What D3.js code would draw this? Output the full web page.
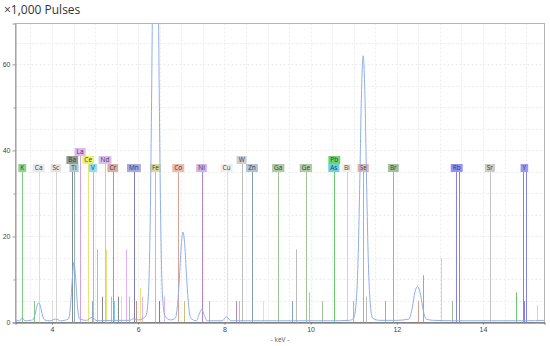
<!DOCTYPE html>
<html>
<head>
<meta charset="utf-8">
<script src="https://cdn.jsdelivr.net/npm/d3@7"></script>
<style>
  body { margin: 0; background: #fff; }
  svg { display: block; font-family: "Open Sans", "DejaVu Sans", sans-serif; }
</style>
</head>
<body>
<div id="chart"></div>
<script>
// tick labels
var keVTicks = [4, 6, 8, 10, 12, 14]
var countTicks = [0, 20, 40, 60]

// element markers: name, main line energy (keV), series
var elNames = ["K", "Ca", "Sc", "Ti", "V", "Cr", "Mn", "Fe", "Co", "Ni", "Cu", "Zn", "Ga", "Ge", "As", "Se", "Br", "Rb", "Sr", "Y",
               "Ba", "La", "Ce", "Nd", "W", "Pb", "Bi"]
var elMainKeV = [3.31, 3.69, 4.09, 4.51, 4.95, 5.41, 5.90, 6.40, 6.93, 7.47, 8.05, 8.64, 9.25, 9.89, 10.54, 11.22, 11.92, 13.39, 14.16, 14.96,
                 4.47, 4.65, 4.84, 5.23, 8.40, 10.55, 10.84]
var elSeries = ["K", "K", "K", "K", "K", "K", "K", "K", "K", "K", "K", "K", "K", "K", "K", "K", "K", "K", "K", "K",
                "L", "L", "L", "L", "L", "L", "L"]

// secondary marker lines: [element, keV, height in x1,000 pulses]
var subLines = [
  ["K", 3.59, 5], ["Ca", 4.01, 5], ["Sc", 4.46, 5], ["Ti", 4.93, 5], ["V", 5.43, 5], ["Cr", 5.95, 5],
  ["Mn", 6.49, 5], ["Fe", 7.06, 5], ["Co", 7.65, 5], ["Ni", 8.26, 5], ["Cu", 8.90, 5], ["Zn", 9.57, 5],
  ["Ga", 10.26, 5], ["Ge", 10.98, 5], ["As", 11.73, 5], ["Se", 12.50, 5], ["Br", 13.29, 5], ["Rb", 14.96, 5],
  ["Ba", 4.83, 17], ["Ba", 5.16, 6], ["Ba", 5.53, 6],
  ["La", 5.04, 17], ["La", 5.38, 6], ["La", 5.79, 6],
  ["Ce", 5.26, 17], ["Ce", 5.61, 6], ["Ce", 6.05, 8],
  ["Nd", 5.72, 17], ["Nd", 6.09, 6], ["Nd", 6.60, 6],
  ["W", 8.33, 5], ["W", 9.67, 17], ["W", 9.96, 7], ["W", 11.29, 6],
  ["Pb", 12.61, 11], ["Pb", 14.76, 7],
  ["Bi", 13.02, 15], ["Bi", 15.25, 4]
]

// measured spectrum: [keV, x1,000 pulses]
var spectrum = [
  [3.15, 0.4], [3.25, 0.4], [3.31, 1.1], [3.37, 0.4], [3.50, 0.5], [3.55, 0.6], [3.61, 2.0], [3.65, 3.8],
  [3.69, 4.6], [3.73, 3.8], [3.77, 2.0], [3.83, 0.6], [3.95, 0.4], [4.09, 0.8], [4.20, 0.4], [4.38, 0.8],
  [4.43, 4.0], [4.47, 10], [4.51, 14], [4.55, 10], [4.59, 4.0], [4.64, 0.8], [4.80, 0.5], [4.93, 1.2],
  [5.05, 0.4], [5.40, 0.5], [5.80, 0.5], [5.90, 0.9], [6.00, 0.6], [6.18, 1.5], [6.24, 7], [6.28, 25],
  [6.32, 62], [6.36, 110], [6.40, 130], [6.44, 110], [6.48, 62], [6.52, 25], [6.56, 7], [6.62, 1.5],
  [6.75, 0.6], [6.86, 1.0], [6.92, 5], [6.96, 11], [7.00, 18], [7.04, 21], [7.08, 18], [7.12, 11],
  [7.16, 5], [7.22, 1.0], [7.35, 0.4], [7.41, 1.8], [7.47, 3.0], [7.53, 1.8], [7.60, 0.4], [7.95, 0.4],
  [8.05, 1.3], [8.15, 0.4], [8.60, 0.4], [9.20, 0.4], [9.90, 0.4], [10.50, 0.4], [10.90, 0.5], [11.00, 1.0],
  [11.06, 5], [11.10, 14], [11.14, 32], [11.18, 53], [11.22, 62], [11.26, 53], [11.30, 32], [11.34, 14],
  [11.38, 5], [11.44, 1.0], [11.60, 0.5], [12.00, 0.5], [12.28, 0.8], [12.36, 3.5], [12.42, 7], [12.48, 8.4],
  [12.54, 7], [12.60, 3.5], [12.68, 0.8], [12.85, 0.5], [13.40, 0.4], [14.20, 0.4], [15.00, 0.4], [15.43, 0.5]
]

// label box / marker colours, keyed by element
var elFill = {
  K: "#8ed68e", Ca: "#e8e8e8", Sc: "#e4e4e4", Ti: "#aecbd9", V: "#8cdef0", Cr: "#dbaea0", Mn: "#a8a8e4",
  Fe: "#dada9e", Co: "#eabcae", Ni: "#d4b0e4", Cu: "#eeeeee", Zn: "#aec4da", Ga: "#aecaa6", Ge: "#aecaa6",
  As: "#62d4e8", Se: "#e4b6a8", Br: "#a0c4a0", Rb: "#9494f2", Sr: "#cccccc", Y: "#9a9af2",
  Ba: "#929c92", La: "#deb6f4", Ce: "#eef070", Nd: "#debef4", W: "#cecece", Pb: "#6cd46c", Bi: "#eeeeee"
}
var elStroke = {
  K: "#82cc82", Ca: "#dcdcdc", Sc: "#d6d6d6", Ti: "#8cb2c6", V: "#7cd0ea", Cr: "#bc9486", Mn: "#7c7cb4",
  Fe: "#c4c47a", Co: "#d8a294", Ni: "#b088be", Cu: "#dedede", Zn: "#84a0bc", Ga: "#a2c29a", Ge: "#a2c29a",
  As: "#5ccadc", Se: "#d2a294", Br: "#94bc94", Rb: "#8484e6", Sr: "#c2c2c2", Y: "#8484e6",
  Ba: "#858c85", La: "#cca6e8", Ce: "#e8e27c", Nd: "#e6b2f4", W: "#bcbcbc", Pb: "#6ccc6c", Bi: "#d2d2d2"
}

var width = 550
  , height = 346
  , plot = { left: 15.5, right: 544.5, top: 23.5, bottom: 322.5 }

var svg = d3.select("#chart").append("svg")
  .attr("width", width)
  .attr("height", height)

var x = d3.scaleLinear().domain([3.153, 15.427]).range([plot.left, plot.right])
var y = d3.scaleLinear().domain([0, 69.5]).range([plot.bottom, plot.top])

svg.append("defs").append("clipPath").attr("id", "plot-clip")
  .append("rect")
    .attr("x", plot.left)
    .attr("y", plot.top)
    .attr("width", plot.right - plot.left)
    .attr("height", plot.bottom - plot.top)

// title
svg.append("text")
  .attr("x", 4)
  .attr("y", 14)
  .attr("font-size", "12px")
  .attr("fill", "#333")
  .text("\u00d71,000 Pulses")

// grid
var grid = svg.append("g").attr("stroke", "#ececec").attr("stroke-dasharray", "2,2")
grid.selectAll("line.v")
  .data(d3.range(3.5, 15.45, 0.5))
  .enter().append("line")
    .attr("x1", function (d) { return Math.round(x(d)) + 0.5 })
    .attr("x2", function (d) { return Math.round(x(d)) + 0.5 })
    .attr("y1", plot.top)
    .attr("y2", plot.bottom)
grid.selectAll("line.h")
  .data(d3.range(5, 69, 5))
  .enter().append("line")
    .attr("x1", plot.left)
    .attr("x2", plot.right)
    .attr("y1", function (d) { return Math.round(y(d)) + 0.5 })
    .attr("y2", function (d) { return Math.round(y(d)) + 0.5 })

// frame
svg.append("rect")
  .attr("x", plot.left)
  .attr("y", plot.top)
  .attr("width", plot.right - plot.left)
  .attr("height", plot.bottom - plot.top)
  .attr("fill", "none")
  .attr("stroke", "#b4b4b4")

// y axis
var yAxis = svg.append("g")
  .attr("transform", "translate(" + plot.left + ",0)")
  .call(d3.axisLeft(y).tickValues(countTicks).tickSize(3).tickPadding(2))
yAxis.select(".domain").attr("stroke", "#999")
yAxis.selectAll(".tick line").attr("stroke", "#999")
yAxis.selectAll(".tick text").attr("font-size", "7px").attr("fill", "#444").attr("font-family", "inherit")

svg.append("g")
  .attr("transform", "translate(" + plot.left + ",0)")
  .call(d3.axisLeft(y).tickValues([10, 30, 50]).tickSize(2).tickFormat(""))
  .call(function (g) { g.select(".domain").remove(); g.selectAll("line").attr("stroke", "#999") })

// x axis
var xAxis = svg.append("g")
  .attr("transform", "translate(0," + plot.bottom + ")")
  .call(d3.axisBottom(x).tickValues(keVTicks).tickSize(2).tickPadding(3))
xAxis.select(".domain").attr("stroke", "#555")
xAxis.selectAll(".tick line").attr("stroke", "#777")
xAxis.selectAll(".tick text").attr("font-size", "7px").attr("fill", "#444").attr("font-family", "inherit")

svg.append("text")
  .attr("x", 280)
  .attr("y", 342)
  .attr("text-anchor", "middle")
  .attr("font-size", "6.5px")
  .attr("fill", "#555")
  .text("- keV -")

// element markers
var elements = elNames.map(function (n, i) {
  return { name: n, keV: elMainKeV[i], series: elSeries[i] }
})

var markers = svg.append("g").attr("clip-path", "url(#plot-clip)")
var labels = svg.append("g")

// secondary lines
markers.selectAll("line.sub")
  .data(subLines)
  .enter().append("line")
    .attr("x1", function (d) { return Math.round(x(d[1])) + 0.5 })
    .attr("x2", function (d) { return Math.round(x(d[1])) + 0.5 })
    .attr("y1", y(0))
    .attr("y2", function (d) { return y(d[2]) })
    .attr("stroke", function (d) { return elStroke[d[0]] })
    .attr("stroke-width", 1)

// place labels: K lines first, then L lines stacked upward when they collide
var order = elements.slice().sort(function (a, b) {
  return a.series === b.series ? a.keV - b.keV : (a.series === "K" ? -1 : 1)
})
var rows = []
  , boxH = 8
  , rowBase = 172

order.forEach(function (d) {
  var g = labels.append("g")
  var t = g.append("text")
    .attr("font-size", "6.5px")
    .attr("fill", "#3a3a3a")
    .attr("text-anchor", "middle")
    .text(d.name)
  var w = t.node().getComputedTextLength() + 4
  var cx = x(d.keV)
  var x0 = cx - w / 2, x1 = cx + w / 2
  var row = 0
  while (rows[row] && rows[row].some(function (r) { return x0 < r[1] && x1 > r[0] })) row++
  ;(rows[row] = rows[row] || []).push([x0, x1])
  d.boxBottom = rowBase - row * boxH
  g.insert("rect", "text")
    .attr("x", x0)
    .attr("y", d.boxBottom - boxH)
    .attr("width", w)
    .attr("height", boxH)
    .attr("fill", elFill[d.name])
  t.attr("x", cx).attr("y", d.boxBottom - 2)
})

// main lines from baseline to label (Rb and Y drawn as a double line)
var mainLines = []
elements.forEach(function (d) {
  if (d.name === "Rb" || d.name === "Y") {
    mainLines.push({ el: d, dx: -1 }, { el: d, dx: 2 })
  } else {
    mainLines.push({ el: d, dx: 0 })
  }
})

markers.selectAll("line.main")
  .data(mainLines)
  .enter().append("line")
    .attr("x1", function (d) { return Math.round(x(d.el.keV)) + d.dx + 0.5 })
    .attr("x2", function (d) { return Math.round(x(d.el.keV)) + d.dx + 0.5 })
    .attr("y1", y(0))
    .attr("y2", function (d) { return d.el.boxBottom })
    .attr("stroke", function (d) { return elStroke[d.el.name] })
    .attr("stroke-width", 1)

// spectrum
var line = d3.line()
  .x(function (d) { return x(d[0]) })
  .y(function (d) { return y(d[1]) })
  .curve(d3.curveMonotoneX)

svg.append("path")
  .datum(spectrum)
  .attr("clip-path", "url(#plot-clip)")
  .attr("d", line)
  .attr("fill", "none")
  .attr("stroke", "#8eaeea")
  .attr("stroke-width", 1)
</script>
</body>
</html>
